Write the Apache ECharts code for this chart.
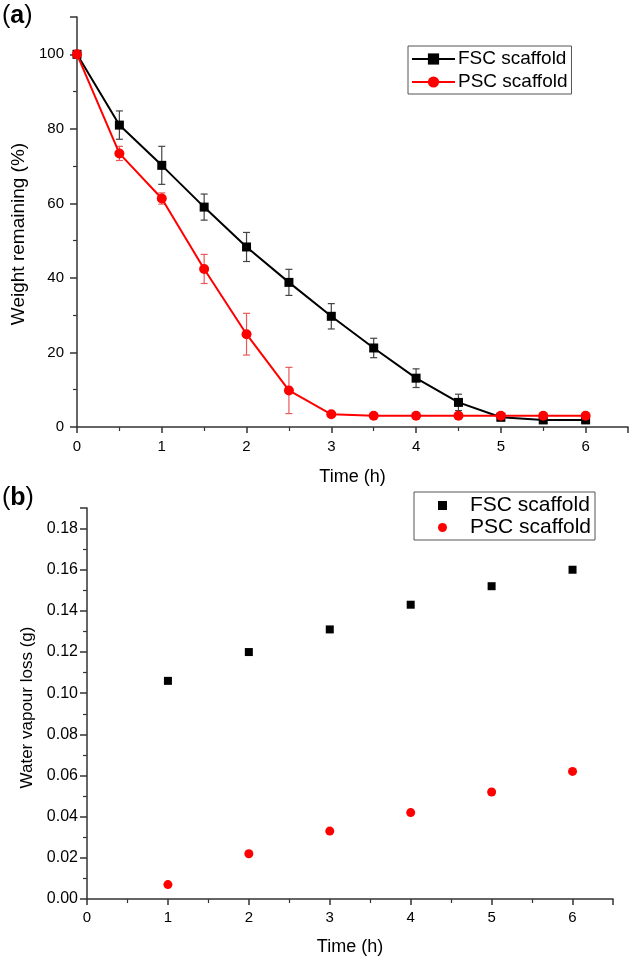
<!DOCTYPE html>
<html>
<head>
<meta charset="utf-8">
<script src="https://cdn.jsdelivr.net/npm/echarts@6/dist/echarts.min.js"></script>
<style>
html,body{margin:0;padding:0;background:#fff;}
#chart{width:633px;height:961px;}
</style>
</head>
<body>
<div id="chart"></div>
<script>
// Panel (a): weight remaining vs time
var timeA = [0, 0.5, 1, 1.5, 2, 2.5, 3, 3.5, 4, 4.5, 5, 5.5, 6];
var fscWeight = [100, 81.0, 70.2, 59.0, 48.3, 38.8, 29.7, 21.2, 13.1, 6.6, 2.6, 1.9, 1.9];
var fscWeightErr = [0.8, 3.8, 5.1, 3.5, 3.9, 3.5, 3.4, 2.6, 2.5, 2.2, 0.5, 0.3, 0.3];
var pscWeight = [100, 73.4, 61.3, 42.4, 24.9, 9.8, 3.4, 3.0, 3.0, 3.0, 3.0, 3.0, 3.0];
var pscWeightErr = [1.0, 1.9, 1.5, 3.9, 5.6, 6.2, 0.5, 0.3, 0.3, 0.3, 0.3, 0.3, 0.3];

// Panel (b): water vapour loss vs time
var timeB = [1, 2, 3, 4, 5, 6];
var fscVapour = [0.106, 0.120, 0.131, 0.143, 0.152, 0.160];
var pscVapour = [0.007, 0.022, 0.033, 0.042, 0.052, 0.062];

var seriesNames = ['FSC scaffold', 'PSC scaffold'];

function pairs(xs, ys) { return xs.map(function (x, i) { return [x, ys[i]]; }); }
function triples(xs, ys, es) { return xs.map(function (x, i) { return [x, ys[i], es[i]]; }); }

function errRender(color) {
  return function (params, api) {
    var x = api.value(0), y = api.value(1), e = api.value(2);
    var top = api.coord([x, y + e]);
    var bot = api.coord([x, y - e]);
    var hw = 3.5;
    var st = { stroke: color, lineWidth: 1.2 };
    return {
      type: 'group',
      children: [
        { type: 'line', shape: { x1: top[0], y1: top[1], x2: bot[0], y2: bot[1] }, style: st },
        { type: 'line', shape: { x1: top[0] - hw, y1: top[1], x2: top[0] + hw, y2: top[1] }, style: st },
        { type: 'line', shape: { x1: bot[0] - hw, y1: bot[1], x2: bot[0] + hw, y2: bot[1] }, style: st }
      ]
    };
  };
}

var FONT = 'Liberation Sans, Arial, sans-serif';
var axisCol = '#333';

var chart = echarts.init(document.getElementById('chart'), null, { renderer: 'canvas' });

var option = {
  backgroundColor: '#fff',
  animation: false,
  textStyle: { fontFamily: FONT },
  graphic: [
    { type: 'text', left: 2, top: 4, style: { text: '{p|(}{b|a}{p|)}', rich: { p: { fontSize: 25, fontFamily: FONT, fill: '#000' }, b: { fontSize: 25, fontWeight: 'bold', fontFamily: FONT, fill: '#000' } } } },
    { type: 'text', left: 2, top: 486, style: { text: '{p|(}{b|b}{p|)}', rich: { p: { fontSize: 25, fontFamily: FONT, fill: '#000' }, b: { fontSize: 25, fontWeight: 'bold', fontFamily: FONT, fill: '#000' } } } }
  ],
  legend: [
    {
      left: 408, top: 46,
      orient: 'vertical',
      data: seriesNames,
      itemWidth: 43, itemHeight: 14, itemGap: 3,
      padding: [3, 4, 2, 3],
      borderColor: '#555', borderWidth: 1,
      selectedMode: false,
      textStyle: { fontSize: 19, lineHeight: 20, color: '#000', fontFamily: FONT, padding: [0, 0, 0, -2] }
    },
    {
      left: 414, top: 492,
      orient: 'vertical',
      data: [
        { name: seriesNames[0], icon: 'rect', itemStyle: { color: '#000' } },
        { name: seriesNames[1], icon: 'circle', itemStyle: { color: '#ff0000' } }
      ],
      itemWidth: 9, itemHeight: 9, itemGap: 1,
      padding: [3, 4, 2, 24],
      borderColor: '#555', borderWidth: 1,
      selectedMode: false,
      textStyle: { fontSize: 21, lineHeight: 21, color: '#000', fontFamily: FONT, padding: [0, 0, 0, 18] }
    }
  ],
  grid: [
    { left: 77, top: 17, right: 5, bottom: 534, containLabel: false },
    { left: 87, top: 508, right: 20, bottom: 62, containLabel: false }
  ],
  xAxis: [
    {
      gridIndex: 0, type: 'value', min: 0, max: 6.5, interval: 1,
      name: 'Time (h)', nameLocation: 'middle', nameGap: 41,
      nameTextStyle: { fontSize: 18, color: '#000', fontFamily: FONT },
      axisLine: { show: true, onZero: false, lineStyle: { color: axisCol, width: 1.5 } },
      axisTick: { show: true, length: 6, lineStyle: { color: axisCol, width: 1.5 } },
      minorTick: { show: true, splitNumber: 2, length: 4, lineStyle: { color: axisCol, width: 1.2 } },
      splitLine: { show: false },
      axisLabel: { fontSize: 15, color: '#000', margin: 12, fontFamily: FONT, showMaxLabel: false }
    },
    {
      gridIndex: 1, type: 'value', min: 0, max: 6.5, interval: 1,
      name: 'Time (h)', nameLocation: 'middle', nameGap: 39,
      nameTextStyle: { fontSize: 18, color: '#000', fontFamily: FONT },
      axisLine: { show: true, onZero: false, lineStyle: { color: axisCol, width: 1.5 } },
      axisTick: { show: true, length: 6, lineStyle: { color: axisCol, width: 1.5 } },
      minorTick: { show: true, splitNumber: 2, length: 4, lineStyle: { color: axisCol, width: 1.2 } },
      splitLine: { show: false },
      axisLabel: { fontSize: 15, color: '#000', margin: 11, fontFamily: FONT, showMaxLabel: false }
    }
  ],
  yAxis: [
    {
      gridIndex: 0, type: 'value', min: 0, max: 110, interval: 20,
      name: 'Weight remaining (%)', nameLocation: 'middle', nameGap: 37, nameRotate: 90,
      nameTextStyle: { fontSize: 19, color: '#000', fontFamily: FONT, padding: [0, 24, 0, 0] },
      axisLine: { show: true, onZero: false, lineStyle: { color: axisCol, width: 1.5 } },
      axisTick: { show: true, length: 7, lineStyle: { color: axisCol, width: 1.5 } },
      minorTick: { show: true, splitNumber: 2, length: 4, lineStyle: { color: axisCol, width: 1.2 } },
      splitLine: { show: false },
      axisLabel: { fontSize: 15, color: '#000', margin: 13, fontFamily: FONT, showMaxLabel: false }
    },
    {
      gridIndex: 1, type: 'value', min: 0, max: 0.19, interval: 0.02,
      name: 'Water vapour loss (g)', nameLocation: 'middle', nameGap: 47, nameRotate: 90,
      nameTextStyle: { fontSize: 17, color: '#000', fontFamily: FONT, padding: [0, 8, 0, 0] },
      axisLine: { show: true, onZero: false, lineStyle: { color: axisCol, width: 1.5 } },
      axisTick: { show: true, length: 7, lineStyle: { color: axisCol, width: 1.5 } },
      minorTick: { show: true, splitNumber: 2, length: 4, lineStyle: { color: axisCol, width: 1.2 } },
      splitLine: { show: false },
      axisLabel: { fontSize: 16, color: '#000', margin: 9, fontFamily: FONT, showMaxLabel: false,
        formatter: function (v) { return v.toFixed(2); } }
    }
  ],
  series: [
    {
      name: seriesNames[0], type: 'line', xAxisIndex: 0, yAxisIndex: 0,
      data: pairs(timeA, fscWeight),
      symbol: 'rect', symbolSize: 9,
      lineStyle: { color: '#000', width: 2 },
      itemStyle: { color: '#000', opacity: 1 },
      z: 3
    },
    {
      name: seriesNames[1], type: 'line', xAxisIndex: 0, yAxisIndex: 0,
      data: pairs(timeA, pscWeight),
      symbol: 'circle', symbolSize: 10,
      smooth: false,
      lineStyle: { color: '#ff0000', width: 2 },
      itemStyle: { color: '#ff0000', opacity: 1 },
      z: 4
    },
    {
      name: 'fscErr', type: 'custom', xAxisIndex: 0, yAxisIndex: 0,
      data: triples(timeA, fscWeight, fscWeightErr),
      renderItem: errRender('#444'), z: 2, silent: true
    },
    {
      name: 'pscErr', type: 'custom', xAxisIndex: 0, yAxisIndex: 0,
      data: triples(timeA, pscWeight, pscWeightErr),
      renderItem: errRender('#e85a5a'), z: 2, silent: true
    },
    {
      name: seriesNames[0], type: 'scatter', xAxisIndex: 1, yAxisIndex: 1,
      data: pairs(timeB, fscVapour),
      symbol: 'rect', symbolSize: 8,
      itemStyle: { color: '#000', opacity: 1 }
    },
    {
      name: seriesNames[1], type: 'scatter', xAxisIndex: 1, yAxisIndex: 1,
      data: pairs(timeB, pscVapour),
      symbol: 'circle', symbolSize: 9,
      itemStyle: { color: '#ff0000', opacity: 1 }
    }
  ]
};

chart.setOption(option);
</script>
</body>
</html>
